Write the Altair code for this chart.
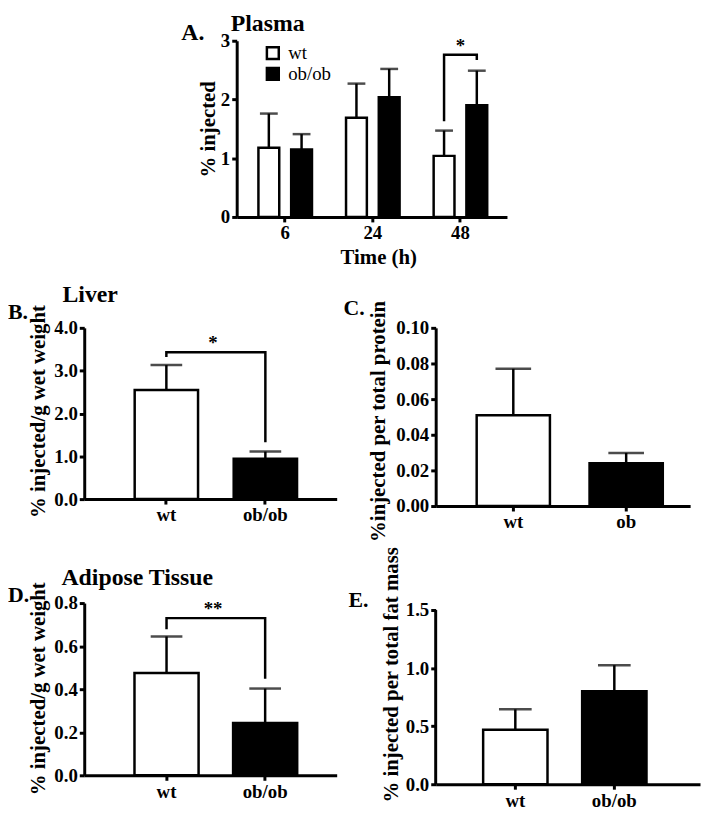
import altair as alt
import pandas as pd

FONT = "Liberation Serif"

# ---------------- data ----------------
# Panel A: plasma, time course
times = ["6", "24", "48"]
groups = ["wt", "ob/ob"]
a_wt_mean = [1.18, 1.69, 1.04]
a_wt_sem = [0.58, 0.58, 0.43]
a_ob_mean = [1.15, 2.04, 1.90]
a_ob_sem = [0.26, 0.48, 0.59]
a_yticks = [0, 1, 2, 3]
a_bracket = [1.63, 2.76, 2.76, 2.67]

# Panel B: liver, per g wet weight
bd_groups = ["wt", "ob/ob"]
b_mean = [2.55, 0.94]
b_sem = [0.58, 0.17]
b_yticks = [0, 1, 2, 3, 4]
b_bracket = [3.32, 3.43, 3.43, 1.33]

# Panel C: liver, per total protein
c_groups = ["wt", "ob"]
c_mean = [0.051, 0.024]
c_sem = [0.026, 0.0058]
c_yticks = [0, 0.02, 0.04, 0.06, 0.08, 0.10]

# Panel D: adipose, per g wet weight
d_mean = [0.475, 0.243]
d_sem = [0.17, 0.16]
d_yticks = [0, 0.2, 0.4, 0.6, 0.8]
d_bracket = [0.678, 0.73, 0.73, 0.449]

# Panel E: adipose, per total fat mass
e_mean = [0.47, 0.80]
e_sem = [0.175, 0.225]
e_yticks = [0, 0.5, 1.0, 1.5]

bar_fills = ["white", "black"]


def label_layer(text, px, py, size=24, weight="bold"):
    return alt.Chart(pd.DataFrame({"t": [text]})).mark_text(
        font=FONT, fontSize=size, fontWeight=weight, align="left",
        baseline="middle", color="black"
    ).encode(x=alt.value(px), y=alt.value(py), text="t:N")


# ---------------- Panel A ----------------
a_df = pd.DataFrame({
    "time": times * 2,
    "group": ["wt"] * 3 + ["ob/ob"] * 3,
    "mean": a_wt_mean + a_ob_mean,
    "top": [m + s for m, s in zip(a_wt_mean, a_wt_sem)]
    + [m + s for m, s in zip(a_ob_mean, a_ob_sem)],
})
a_br_df = pd.DataFrame({
    "time": ["48"] * 4,
    "group": ["wt", "wt", "ob/ob", "ob/ob"],
    "v": a_bracket,
    "o": [0, 1, 2, 3],
})
a_star_df = pd.DataFrame({"time": ["48"], "v": [a_bracket[1]], "t": ["*"]})

xA = alt.X("time:N", sort=times,
           scale=alt.Scale(domain=times, range=[154, 427], paddingInner=0,
                           paddingOuter=0.0424, align=0.633, round=False),
           axis=alt.Axis(title="Time (h)", labelAngle=0, titleX=297, titleY=41,
                         titleBaseline="middle"))
xoA = alt.XOffset("group:N", sort=groups,
                  scale=alt.Scale(domain=groups, paddingInner=0.364,
                                  paddingOuter=0.52, round=False))
a_yscale = alt.Scale(domain=[0, 3], nice=False)
a_yaxis = alt.Axis(values=a_yticks, format="d", title="% injected", offset=-154,
                   titleX=-28, titleY=89, titleBaseline="middle")


def YA(f):
    return alt.Y(f, scale=a_yscale, axis=a_yaxis)


a_bars = alt.Chart(a_df).mark_bar(stroke="black", strokeWidth=2.5).encode(
    x=xA, xOffset=xoA, y=YA("mean:Q"),
    fill=alt.Fill("group:N", scale=alt.Scale(domain=groups, range=bar_fills),
                  legend=alt.Legend(title=None, orient="none", legendX=181, legendY=3,
                                    symbolType="square", symbolSize=144,
                                    symbolStrokeColor="black", symbolStrokeWidth=2.5,
                                    labelFont=FONT, labelFontSize=19,
                                    labelFontWeight="normal", labelColor="black",
                                    rowPadding=-3, labelOffset=6, padding=0)),
)
a_err = alt.Chart(a_df).mark_rule(color="black", strokeWidth=2.5).encode(
    x=xA, xOffset=xoA, y=YA("mean:Q"), y2="top:Q")
a_cap = alt.Chart(a_df).mark_tick(color="black", thickness=2.5, size=18).encode(
    x=xA, xOffset=xoA, y=YA("top:Q"))
a_br = alt.Chart(a_br_df).mark_line(color="black", strokeWidth=2.5).encode(
    x=xA, xOffset=xoA, y=YA("v:Q"), order="o:Q")
a_star = alt.Chart(a_star_df).mark_text(
    font=FONT, fontSize=19, fontWeight="bold", baseline="alphabetic", dy=-3,
    color="black").encode(x=xA, y=YA("v:Q"), text="t:N")

panelA = alt.layer(
    a_bars, a_err, a_cap, a_br, a_star,
    label_layer("A.", 98, -8),
    label_layer("Plasma", 148, -17),
).properties(width=427, height=178)


# ---------------- Panels B-E ----------------
def simple_panel(grp, mean, sem, yticks, ymax, fmt, ytitle, title_x, title_y,
                 width, height, pin, pout, align, cap, texts,
                 bracket=None, star=None, axis_rule_top=None):
    df = pd.DataFrame({
        "g": grp, "mean": mean,
        "top": [m + s for m, s in zip(mean, sem)],
        "fillc": bar_fills,
    })
    x = alt.X("g:N", sort=grp,
              scale=alt.Scale(domain=grp, paddingInner=pin, paddingOuter=pout,
                              align=align, round=False),
              axis=alt.Axis(title=None, labelAngle=0))
    yaxis = alt.Axis(values=yticks, format=fmt, title=ytitle, titleX=title_x,
                     titleY=title_y, titleBaseline="middle",
                     domain=axis_rule_top is None)
    yscale = alt.Scale(domain=[0, ymax], nice=False)

    def Y(f):
        return alt.Y(f, scale=yscale, axis=yaxis)

    layers = [
        alt.Chart(df).mark_bar(stroke="black", strokeWidth=2.5).encode(
            x=x, y=Y("mean:Q"), fill=alt.Fill("fillc:N", scale=None)),
        alt.Chart(df).mark_rule(color="black", strokeWidth=2.5).encode(
            x=x, y=Y("mean:Q"), y2="top:Q"),
        alt.Chart(df).mark_tick(color="black", thickness=2.5, size=cap).encode(
            x=x, y=Y("top:Q")),
    ]
    if axis_rule_top is not None:
        rdf = pd.DataFrame({"lo": [0.0], "hi": [axis_rule_top]})
        layers.append(alt.Chart(rdf).mark_rule(color="black", strokeWidth=3).encode(
            x=alt.value(0), y=Y("lo:Q"), y2="hi:Q"))
    if bracket is not None:
        bdf = pd.DataFrame({"g": [grp[0], grp[0], grp[1], grp[1]],
                            "v": bracket, "o": [0, 1, 2, 3]})
        layers.append(alt.Chart(bdf).mark_line(color="black", strokeWidth=2.5).encode(
            x=x, y=Y("v:Q"), order="o:Q"))
        sdf = pd.DataFrame({"g": [grp[0]], "v": [bracket[1]], "t": [star]})
        layers.append(alt.Chart(sdf).mark_text(
            font=FONT, fontSize=19, fontWeight="bold", baseline="alphabetic",
            dy=-3, dx=47, color="black").encode(x=x, y=Y("v:Q"), text="t:N"))
    for t in texts:
        layers.append(label_layer(*t))
    return alt.layer(*layers).properties(width=width, height=height)


panelB = simple_panel(bd_groups, b_mean, b_sem, b_yticks, 4, ".1f",
                      "% injected/g wet weight", -46, 84, 255, 173,
                      0.36, 0.455, 0.56, 32,
                      [("B.", -77, -16, 22), ("Liver", -22, -33)],
                      bracket=b_bracket, star="*")
panelC = simple_panel(c_groups, c_mean, c_sem, c_yticks, 0.10, ".2f",
                      "%injected per total protein", -58, 94, 257, 180,
                      0.351, 0.3026, 0.60, 36,
                      [("C.", -93, -20, 22)])
panelD = simple_panel(bd_groups, d_mean, d_sem, d_yticks, 0.8, ".1f",
                      "% injected/g wet weight", -46, 86, 255, 174,
                      0.35, 0.455, 0.56, 32,
                      [("D.", -77, -8, 22), ("Adipose Tissue", -23, -25)],
                      bracket=d_bracket, star="**")
panelE = simple_panel(bd_groups, e_mean, e_sem, e_yticks, 1.56, ".1f",
                      "% injected per total fat mass", -45, 72, 267, 183,
                      0.35, 0.51, 0.47, 33,
                      [("E.", -88, -3, 22)], axis_rule_top=1.5)

grid = alt.concat(panelB, panelC, panelD, panelE, columns=2,
                  spacing={"row": 98, "column": 100}, bounds="flush")

chart = alt.vconcat(panelA, grid, spacing=112, bounds="flush").resolve_scale(
    fill="independent").resolve_legend(fill="independent").properties(
    padding={"left": 0, "top": 0, "right": 2, "bottom": 0}
).configure_view(stroke=None).configure_axis(
    domainColor="black", domainWidth=3, tickColor="black", tickWidth=3,
    tickSize=5, labelFont=FONT, labelFontSize=19, labelFontWeight="bold",
    labelColor="black", titleFont=FONT, titleFontSize=21, titleFontWeight="bold",
    titleColor="black", grid=False, labelPadding=2, labelFlush=False,
    labelOverlap=False,
)

chart.save("out.html", embed_options={"renderer": "svg", "actions": False})
